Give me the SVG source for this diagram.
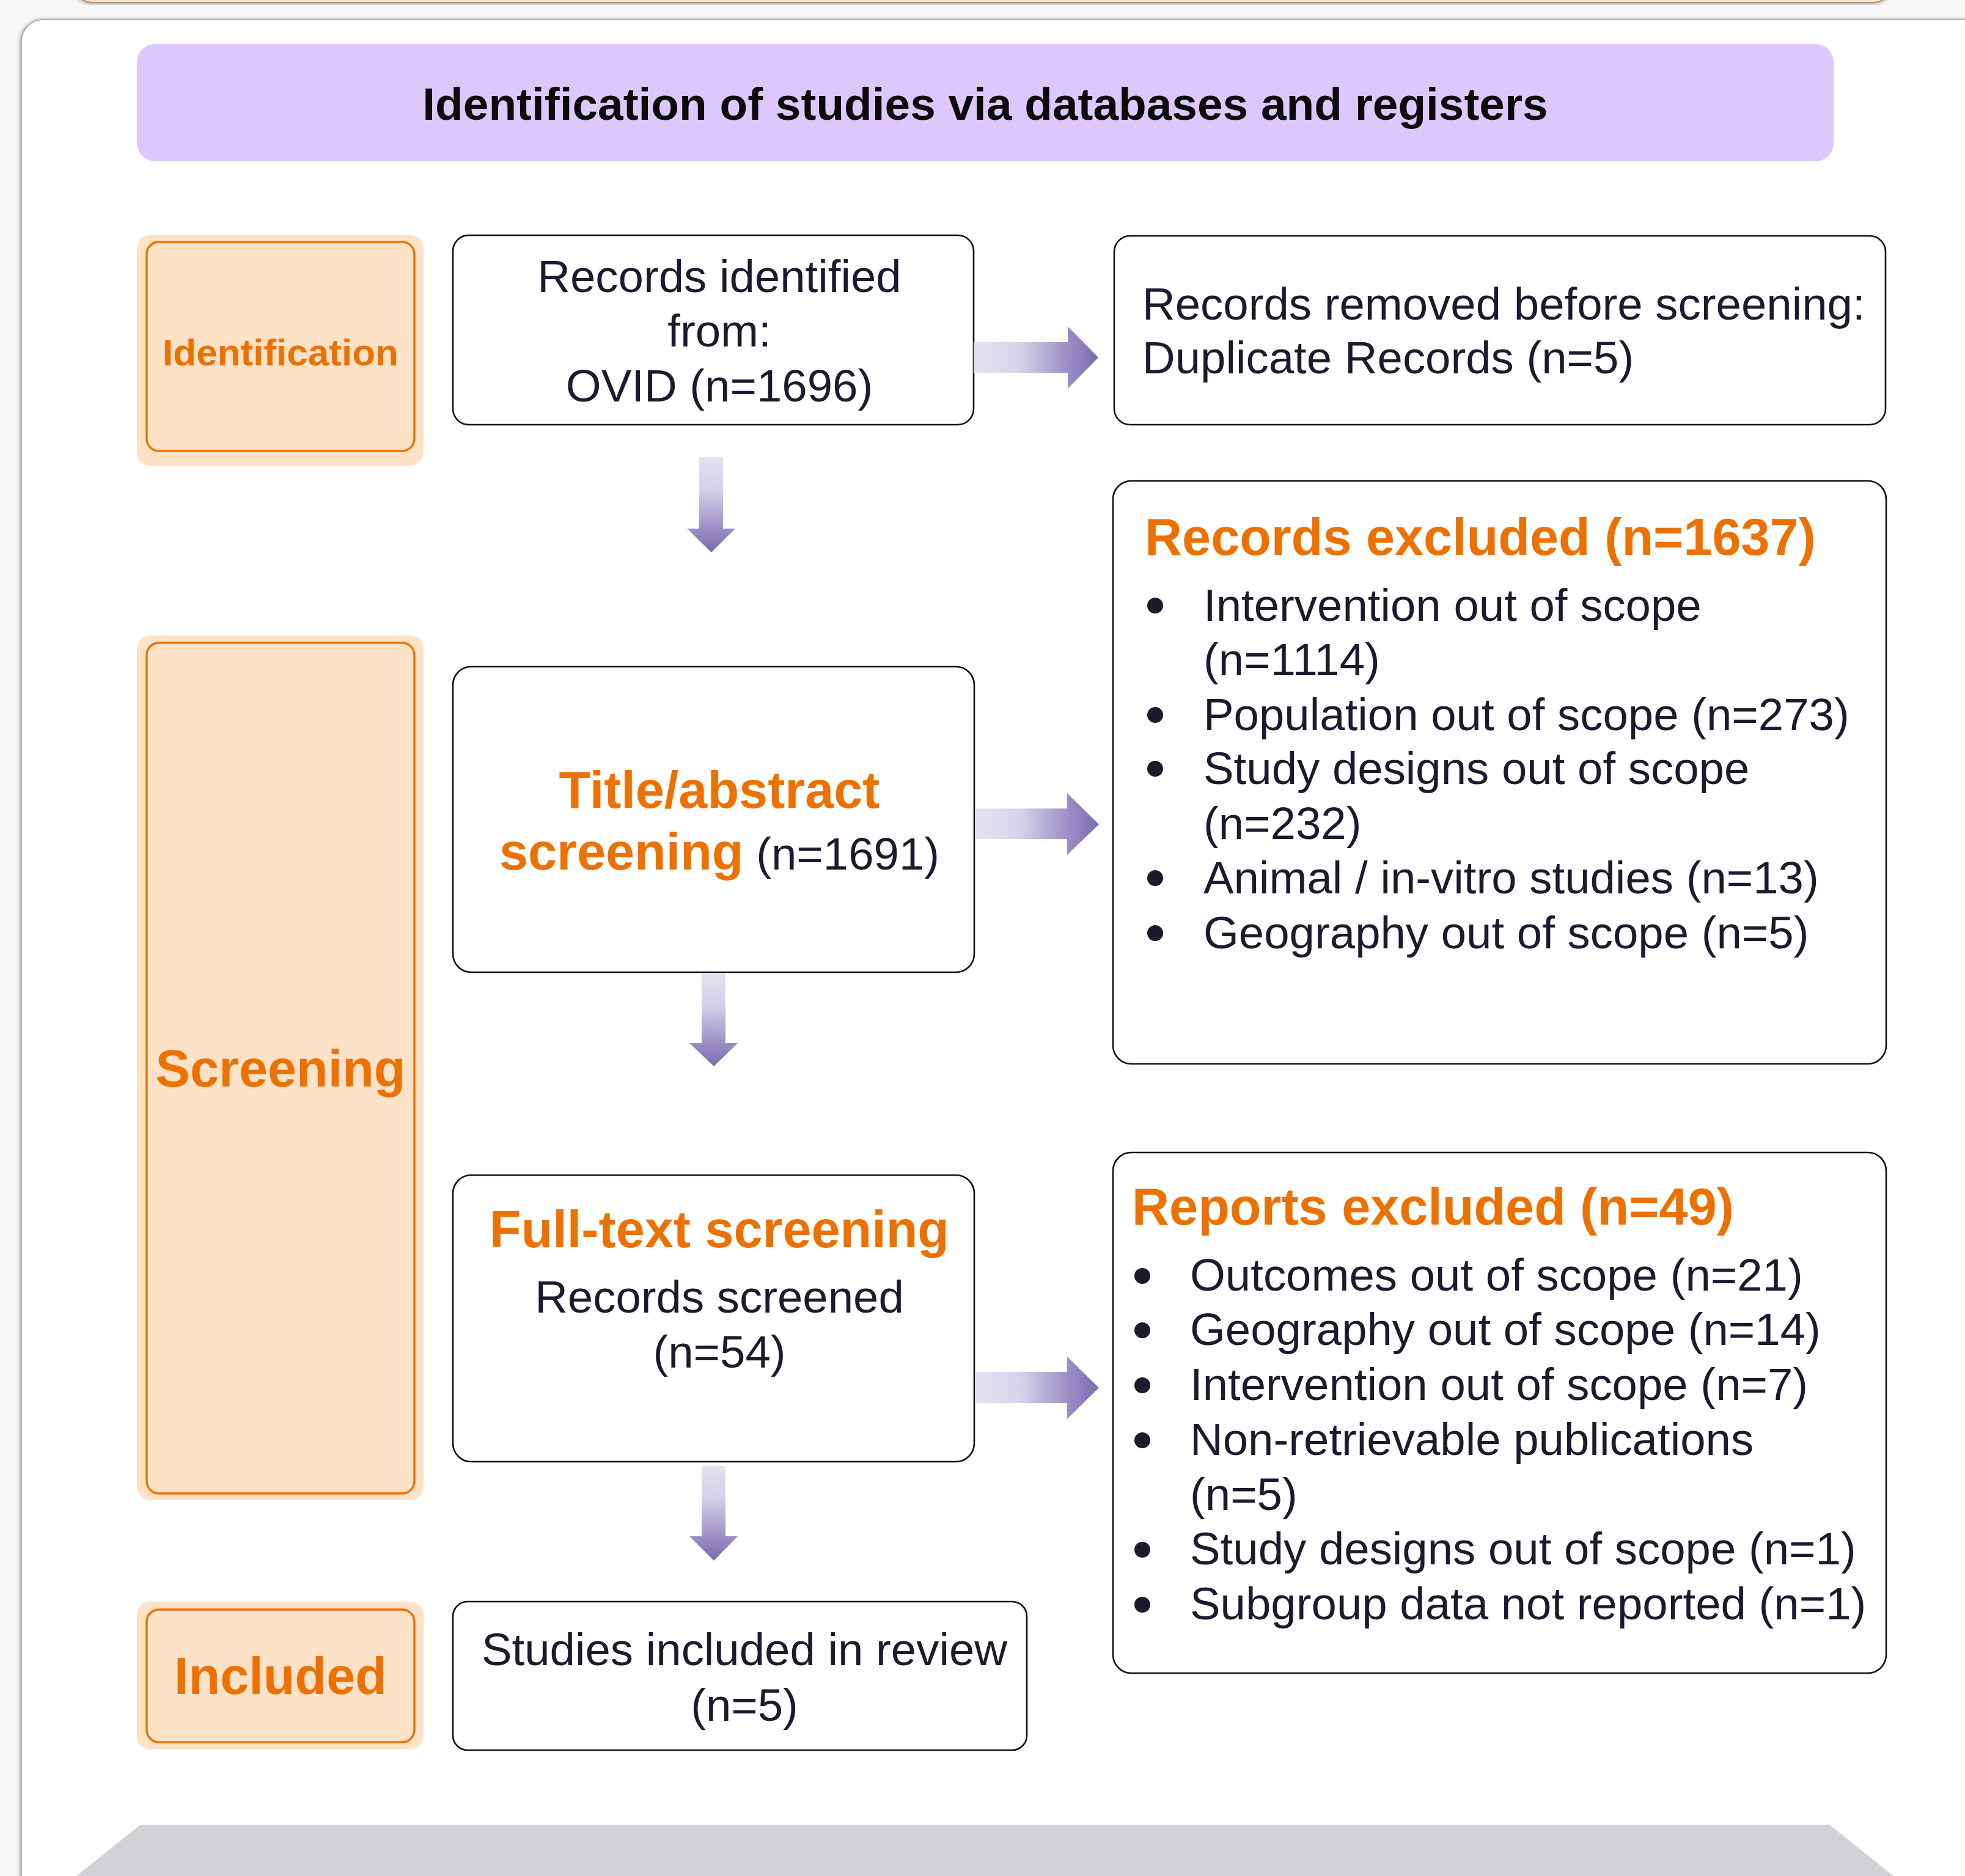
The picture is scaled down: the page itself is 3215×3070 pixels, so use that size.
<svg xmlns="http://www.w3.org/2000/svg" width="3215" height="3070" viewBox="0 0 3215 3070">
<style>
text{font-family:"Liberation Sans",Arial,Helvetica,sans-serif}
.t{font-size:74.4px;fill:#1c1a2d}
.tc{font-size:74.4px;fill:#1c1a2d;text-anchor:middle}
.h{font-size:84.6px;font-weight:bold;fill:#ec7100}
.hc{font-size:84.6px;font-weight:bold;fill:#ec7100;text-anchor:middle}
.box{fill:#fff;stroke:#111;stroke-width:2.6}
.sideO{fill:#fde2c8}
.sideI{fill:#fde2c8;stroke:#ee7203;stroke-width:3.5}
.dot{fill:#1c1a2d}
</style>
<defs>
<filter id="sh" x="-5%" y="-5%" width="110%" height="110%">
<feDropShadow dx="-1" dy="1" stdDeviation="3" flood-color="#000" flood-opacity="0.45"/>
</filter>
<linearGradient id="gh" x1="0" y1="0" x2="1" y2="0">
<stop offset="0" stop-color="#e4e2f1"/>
<stop offset="0.35" stop-color="#d9d6eb"/>
<stop offset="0.75" stop-color="#9b8fc6"/>
<stop offset="1" stop-color="#7b6bb0"/>
</linearGradient>
<linearGradient id="gv" x1="0" y1="0" x2="0" y2="1">
<stop offset="0" stop-color="#e4e2f1"/>
<stop offset="0.35" stop-color="#d3d0e8"/>
<stop offset="0.75" stop-color="#9b8fc6"/>
<stop offset="1" stop-color="#7b6bb0"/>
</linearGradient>
</defs>
<rect x="0" y="0" width="3215" height="3070" fill="#f8f8f8"/>
<rect x="122" y="-60" width="2973" height="64" rx="30" fill="#fde2c7" stroke="#a89888" stroke-width="2" filter="url(#sh)"/>
<rect x="35" y="32" width="3300" height="3100" rx="36" fill="#fff" stroke="#a5a5a5" stroke-width="1.5" filter="url(#sh)"/>
<polygon points="230,2986 2993,2986 3098,3070 125,3070" fill="#d1d1d6"/>

<g id="header">
<rect x="224" y="72" width="2776" height="192" rx="30" fill="#dcc8fc"/>
<text x="1612" y="196" font-size="74.8" font-weight="bold" fill="#0b0b0b" text-anchor="middle">Identification of studies via databases and registers</text>
</g>

<g id="stage-identification">
<rect class="sideO" x="224" y="385" width="469" height="377" rx="22"/>
<rect class="sideI" x="240" y="396" width="438" height="342" rx="20"/>
<text x="459" y="598" font-size="62" font-weight="bold" fill="#ec7100" text-anchor="middle">Identification</text>
</g>
<g id="stage-screening">
<rect class="sideO" x="224" y="1040" width="469" height="1415" rx="22"/>
<rect class="sideI" x="240" y="1052" width="438" height="1392" rx="20"/>
<text class="hc" x="459" y="1778">Screening</text>
</g>
<g id="stage-included">
<rect class="sideO" x="224" y="2621" width="469" height="242" rx="22"/>
<rect class="sideI" x="240" y="2634" width="438" height="217" rx="20"/>
<text class="hc" x="459" y="2772">Included</text>
</g>

<g id="records-identified">
<rect class="box" x="741" y="385" width="852" height="310" rx="26"/>
<text class="tc" x="1177" y="478">Records identified</text>
<text class="tc" x="1177" y="567">from:</text>
<text class="tc" x="1177" y="657">OVID (n=1696)</text>
</g>
<g id="records-removed">
<rect class="box" x="1823" y="386" width="1262" height="309" rx="26"/>
<text class="t" x="1869" y="523">Records removed before screening:</text>
<text class="t" x="1869" y="611">Duplicate Records (n=5)</text>
</g>
<g id="title-abstract">
<rect class="box" x="741" y="1091" width="853" height="500" rx="30"/>
<text class="hc" x="1177" y="1322">Title/abstract</text>
<text x="1177" y="1423" text-anchor="middle"><tspan class="h">screening</tspan><tspan font-size="74.4" fill="#1c1a2d"> (n=1691)</tspan></text>
</g>
<g id="records-excluded">
<rect class="box" x="1821" y="787" width="1265" height="954" rx="30"/>
<text class="h" x="1873" y="908">Records excluded (n=1637)</text>
<circle class="dot" cx="1890" cy="991" r="13"/>
<text class="t" x="1969" y="1016">Intervention out of scope</text>
<text class="t" x="1969" y="1105">(n=1114)</text>
<circle class="dot" cx="1890" cy="1170" r="13"/>
<text class="t" x="1969" y="1195">Population out of scope (n=273)</text>
<circle class="dot" cx="1890" cy="1258" r="13"/>
<text class="t" x="1969" y="1283">Study designs out of scope</text>
<text class="t" x="1969" y="1373">(n=232)</text>
<circle class="dot" cx="1890" cy="1437" r="13"/>
<text class="t" x="1969" y="1462">Animal / in-vitro studies (n=13)</text>
<circle class="dot" cx="1890" cy="1527" r="13"/>
<text class="t" x="1969" y="1552">Geography out of scope (n=5)</text>
</g>
<g id="full-text">
<rect class="box" x="741" y="1923" width="853" height="469" rx="30"/>
<text class="hc" x="1177" y="2041">Full-text screening</text>
<text class="tc" x="1177" y="2148">Records screened</text>
<text class="tc" x="1177" y="2238">(n=54)</text>
</g>
<g id="reports-excluded">
<rect class="box" x="1821" y="1886" width="1265" height="852" rx="30"/>
<text class="h" x="1852" y="2004">Reports excluded (n=49)</text>
<circle class="dot" cx="1869" cy="2088" r="13"/>
<text class="t" x="1947" y="2112">Outcomes out of scope (n=21)</text>
<circle class="dot" cx="1869" cy="2177" r="13"/>
<text class="t" x="1947" y="2201">Geography out of scope (n=14)</text>
<circle class="dot" cx="1869" cy="2267" r="13"/>
<text class="t" x="1947" y="2291">Intervention out of scope (n=7)</text>
<circle class="dot" cx="1869" cy="2357" r="13"/>
<text class="t" x="1947" y="2381">Non-retrievable publications</text>
<text class="t" x="1947" y="2471">(n=5)</text>
<circle class="dot" cx="1869" cy="2536" r="13"/>
<text class="t" x="1947" y="2560">Study designs out of scope (n=1)</text>
<circle class="dot" cx="1869" cy="2626" r="13"/>
<text class="t" x="1947" y="2650">Subgroup data not reported (n=1)</text>
</g>
<g id="studies-included">
<rect class="box" x="741" y="2621" width="939" height="243" rx="24"/>
<text class="tc" x="1218" y="2725">Studies included in review</text>
<text class="tc" x="1218" y="2816">(n=5)</text>
</g>

<g id="connectors">
<polygon fill="url(#gh)" points="1593,560 1747,560 1747,534 1797,585 1747,636 1747,610 1593,610"/>
<polygon fill="url(#gh)" points="1595,1323 1746,1323 1746,1298 1798,1349 1746,1399 1746,1373 1595,1373"/>
<polygon fill="url(#gh)" points="1595,2245 1746,2245 1746,2220 1798,2271 1746,2322 1746,2296 1595,2296"/>
<polygon fill="url(#gv)" points="1144,748 1183,748 1183,865 1203,865 1164,904 1124,865 1144,865"/>
<polygon fill="url(#gv)" points="1148,1592 1187,1592 1187,1707 1207,1707 1168,1745 1128,1707 1148,1707"/>
<polygon fill="url(#gv)" points="1148,2399 1187,2399 1187,2514 1207,2514 1168,2554 1128,2514 1148,2514"/>
</g>
</svg>
